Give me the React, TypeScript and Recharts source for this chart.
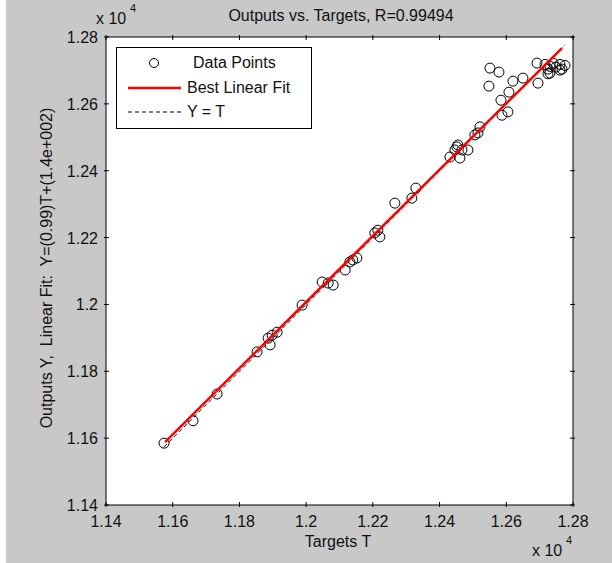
import {
  CartesianGrid,
  Scatter,
  ScatterChart,
  XAxis,
  YAxis,
} from "recharts";

// targets (x) and network outputs (y)
const targets = [
  11574, 11661, 11733, 11853, 11886, 11892, 11898, 11913, 11988, 12048,
  12066, 12081, 12117, 12131, 12140, 12152, 12206, 12215, 12221, 12266,
  12317, 12329, 12431, 12446, 12455, 12461, 12467, 12485, 12452, 12506,
  12515, 12521, 12587, 12584, 12605, 12608, 12548, 12551, 12578, 12620,
  12650, 12692, 12695, 12731, 12761, 12716, 12731, 12740, 12749, 12761,
  12776, 12725, 12767, 12725,
];
const outputs = [
  11585, 11652, 11732, 11858, 11899, 11879, 11908, 11917, 11998, 12067,
  12064, 12058, 12103, 12127, 12133, 12139, 12214, 12222, 12202, 12303,
  12318, 12348, 12441, 12462, 12477, 12438, 12462, 12462, 12471, 12507,
  12513, 12531, 12566, 12611, 12576, 12635, 12653, 12707, 12695, 12668,
  12677, 12722, 12662, 12692, 12701, 12718, 12712, 12722, 12710, 12718,
  12715, 12704, 12704, 12690,
];

const fitX = [11577, 12767];
const fitY = [11588, 12767];
const identityX = [11574, 12776];
const identityY = [11574, 12776];

const ticks = [11400, 11600, 11800, 12000, 12200, 12400, 12600, 12800];
const tickLabels = ["1.14", "1.16", "1.18", "1.2", "1.22", "1.24", "1.26", "1.28"];

const points = targets.map((x, i) => ({ x, y: outputs[i] }));
const fitLine = fitX.map((x, i) => ({ x, y: fitY[i] }));
const identityLine = identityX.map((x, i) => ({ x, y: identityY[i] }));

const FONT = '"Liberation Sans", Arial, sans-serif';
const GRAY = "#c8c8c8";

const BottomTick = (p: any) => (
  <g>
    <line x1={p.x} y1={p.y} x2={p.x} y2={p.y - 5} stroke="#000" />
    <text x={p.x} y={p.y + 20} textAnchor="middle" fontSize={16} fontFamily={FONT} fill="#111">
      {tickLabels[p.index]}
    </text>
  </g>
);
const TopTick = (p: any) => (
  <line x1={p.x} y1={p.y} x2={p.x} y2={p.y + 5} stroke="#000" />
);
const LeftTick = (p: any) => (
  <g>
    <line x1={p.x} y1={p.y} x2={p.x + 5} y2={p.y} stroke="#000" />
    <text x={p.x - 6} y={p.y + 6} textAnchor="end" fontSize={16} fontFamily={FONT} fill="#111">
      {tickLabels[p.index]}
    </text>
  </g>
);
const RightTick = (p: any) => (
  <line x1={p.x} y1={p.y} x2={p.x - 5} y2={p.y} stroke="#000" />
);

const Ring = (p: any) => (
  <circle cx={p.cx} cy={p.cy} r={5} fill="none" stroke="#000" strokeWidth={1} />
);

const txt = (extra: any) => ({
  position: "absolute" as const,
  fontFamily: FONT,
  fontSize: 16,
  lineHeight: "16px",
  color: "#111",
  whiteSpace: "pre" as const,
  ...extra,
});

export default function App() {
  const domain: [number, number] = [11400, 12800];
  const axisCommon = {
    type: "number" as const,
    domain,
    ticks,
    interval: 0 as const,
    tickSize: 0,
    tickLine: false,
    axisLine: { stroke: "#000" },
    allowDataOverflow: true,
  };
  return (
    <div
      style={{
        position: "fixed",
        left: 0,
        top: 0,
        width: 612,
        height: 563,
        background: `linear-gradient(to right, #fff 6px, ${GRAY} 6px)`,
      }}
    >
      <ScatterChart width={612} height={563} margin={{ top: 36, right: 38, bottom: 57, left: 105 }}>
        <CartesianGrid fill="#fff" horizontal={false} vertical={false} />
        <XAxis {...axisCommon} dataKey="x" height={1} tick={<BottomTick />} />
        <XAxis {...axisCommon} xAxisId="top" orientation="top" dataKey="x" height={1} tick={<TopTick />} />
        <YAxis {...axisCommon} dataKey="y" width={1} tick={<LeftTick />} />
        <YAxis {...axisCommon} yAxisId="right" orientation="right" dataKey="y" width={1} tick={<RightTick />} />
        <Scatter data={points} shape={<Ring />} isAnimationActive={false} />
        <Scatter
          data={identityLine}
          line={{ stroke: "#000", strokeWidth: 1, strokeDasharray: "4 3" }}
          shape={() => <g />}
          isAnimationActive={false}
        />
        <Scatter
          data={fitLine}
          line={{ stroke: "#ff0000", strokeWidth: 2.5 }}
          shape={() => <g />}
          isAnimationActive={false}
        />
      </ScatterChart>

      <div style={txt({ left: 141, width: 400, top: 8, textAlign: "center" })}>
        Outputs vs. Targets, R=0.99494
      </div>
      <div style={txt({ left: 96, top: 11 })}>x 10</div>
      <div style={txt({ left: 130, top: 3, fontSize: 11, lineHeight: "11px" })}>4</div>

      <div style={txt({ left: 238, width: 200, top: 534, textAlign: "center" })}>Targets T</div>
      <div style={txt({ left: 532, top: 543 })}>x 10</div>
      <div style={txt({ left: 566, top: 535, fontSize: 11, lineHeight: "11px" })}>4</div>

      <div
        style={txt({
          left: 47 - 200,
          top: 268 - 8,
          width: 400,
          textAlign: "center",
          transform: "rotate(-90deg)",
        })}
      >
        {"Outputs Y,  Linear Fit:  Y=(0.99)T+(1.4e+002)"}
      </div>

      <div
        style={{
          position: "absolute",
          left: 116,
          top: 47,
          width: 194,
          height: 80,
          border: "1px solid #000",
          background: "#fff",
        }}
      >
        <svg width={194} height={80} style={{ position: "absolute", left: 0, top: 0 }}>
          <circle cx={37} cy={15} r={4.5} fill="none" stroke="#000" />
          <line x1={11} y1={40} x2={64} y2={40} stroke="#ff0000" strokeWidth={2.5} />
          <line x1={11} y1={64} x2={64} y2={64} stroke="#000" strokeDasharray="4 3" />
        </svg>
        <div style={txt({ left: 76, top: 7 })}>Data Points</div>
        <div style={txt({ left: 70, top: 32 })}>Best Linear Fit</div>
        <div style={txt({ left: 70, top: 56 })}>Y = T</div>
      </div>
    </div>
  );
}
